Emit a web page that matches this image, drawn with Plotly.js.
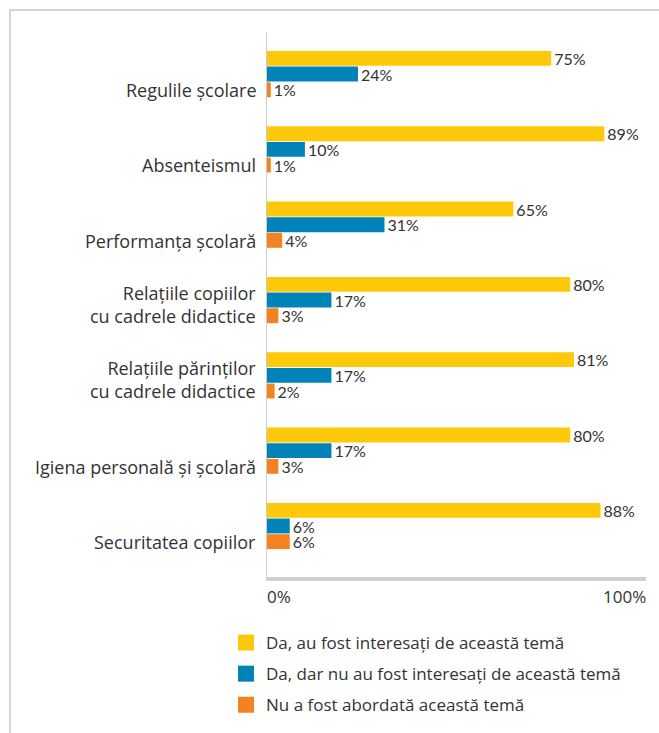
<!DOCTYPE html>
<html>
<head>
<meta charset="utf-8">
<script src="https://cdn.plot.ly/plotly-3.0.1.min.js"></script>
<style>html,body{margin:0;padding:0;background:#fff;}#chart{width:659px;height:733px;}</style>
</head>
<body>
<div id="chart"></div>
<script>
const categories = [
  "Regulile școlare",
  "Absenteismul",
  "Performanța școlară",
  "Relațiile copiilor<br>cu cadrele didactice",
  "Relațiile părinților<br>cu cadrele didactice",
  "Igiena personală și școlară",
  "Securitatea copiilor"
];
const seriesNames = [
  "Da, au fost interesați de această temă",
  "Da, dar nu au fost interesați de această temă",
  "Nu a fost abordată această temă"
];
const interesati = [75, 89, 65, 80, 81, 80, 88];
const neinteresati = [24, 10, 31, 17, 17, 17, 6];
const neabordata = [1, 1, 4, 3, 2, 3, 6];
const xTickLabels = ["0%", "100%"];

const colors = ["#FFC90B", "#0083B8", "#F58220"];
const values = [interesati, neinteresati, neabordata];
const labelFont = "Lato, sans-serif";
const sansFont = "Open Sans, sans-serif";

const traces = values.map((v, i) => ({
  type: "bar",
  orientation: "h",
  name: seriesNames[i],
  showlegend: false,
  x: v,
  y: categories,
  marker: {color: colors[i], line: {width: 0}},
  text: v.map(d => d + "%"),
  textposition: "outside",
  constraintext: "none",
  textfont: {family: labelFont, size: 16, color: "#333"},
  cliponaxis: false,
  hoverinfo: "none"
}));
// legend entries (square swatches)
seriesNames.forEach((n, i) => traces.push({
  type: "scatter", mode: "markers", name: n, legendgroup: "g" + i,
  x: [null], y: [null],
  marker: {symbol: "square", size: 16, color: colors[i], line: {width: 0}},
  hoverinfo: "none"
}));

const annotations = categories.map(c => ({
  x: 0, xref: "x", y: c, yref: "y",
  text: c, showarrow: false,
  xanchor: "right", yanchor: "bottom", align: "right",
  xshift: -9, yshift: -30,
  font: {family: sansFont, size: 18, color: "#333"}
}));
annotations.push({x: 0, xref: "x", y: 0, yref: "paper", text: xTickLabels[0], showarrow: false,
  xanchor: "left", yanchor: "top", yshift: -6, xshift: -2, font: {family: sansFont, size: 17, color: "#333"}});
annotations.push({x: 100, xref: "x", y: 0, yref: "paper", text: xTickLabels[1], showarrow: false,
  xanchor: "right", yanchor: "top", yshift: -6, xshift: 2, font: {family: sansFont, size: 17, color: "#333"}});

const layout = {
  width: 659, height: 733,
  margin: {l: 267, r: 13, t: 32, b: 156, autoexpand: false},
  paper_bgcolor: "#fff", plot_bgcolor: "#fff",
  barmode: "group", bargap: 0.376, bargroupgap: 0.05,
  showlegend: true,
  legend: {
    xref: "paper", yref: "paper",
    x: (226 - 267) / 379, y: (577 - 625) / 545, xanchor: "left", yanchor: "top",
    traceorder: "grouped", tracegroupgap: 6,
    font: {family: sansFont, size: 17, color: "#333"},
    bgcolor: "rgba(0,0,0,0)"
  },
  xaxis: {range: [0, 100], showgrid: false, zeroline: false, showticklabels: false,
          showline: true, linecolor: "#D0D0D0", linewidth: 4, ticks: "", fixedrange: true},
  yaxis: {type: "category", categoryarray: categories, range: [6.677, -0.558],
          showgrid: false, zeroline: false, showticklabels: false,
          showline: true, linecolor: "#CCCCCC", linewidth: 1, ticks: "", fixedrange: true},
  annotations: annotations,
  shapes: [{type: "rect", xref: "paper", yref: "paper",
            x0: -0.678, x1: 3, y0: -3, y1: 1.0405,
            line: {color: "#D5D5D5", width: 2}, fillcolor: "rgba(0,0,0,0)", layer: "below"}]
};

Plotly.newPlot("chart", traces, layout, {displayModeBar: false, staticPlot: true});
</script>
</body>
</html>
